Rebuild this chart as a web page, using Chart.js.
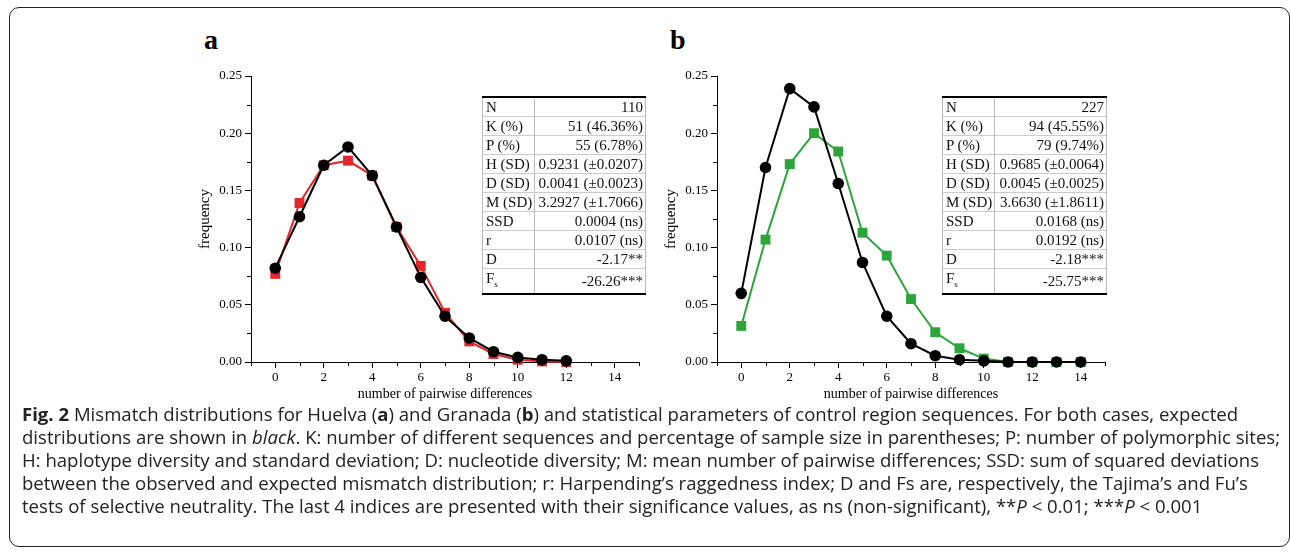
<!DOCTYPE html>
<html>
<head>
  <title>Mismatch distributions</title>
  <script src="https://cdn.jsdelivr.net/npm/chart.js"></script>
  <style>
    html, body { margin: 0; padding: 0; background: #fff; }
    body { width: 1290px; height: 553px; position: relative; overflow: hidden; }
    .frame { position: absolute; left: 9px; top: 7px; width: 1281px; height: 540px;
             border: 1.5px solid #222; border-radius: 10px; box-sizing: border-box; }
    .panel-tag { position: absolute; top: 24px; font: bold 28px "Liberation Serif", serif; color: #000; }
    canvas { position: absolute; }
    table.stats { position: absolute; border-collapse: collapse; font: 15px "Liberation Serif", serif;
                  color: #111; border-top: 2px solid #000; border-bottom: 2px solid #000; }
    table.stats td { height: 18px; padding: 0 2px 0 3px; border-left: 1px solid #bbb; border-right: 1px solid #bbb;
                     border-top: 1px solid #ccc; white-space: nowrap; line-height: 18px; }
    table.stats td.v { text-align: right; }
    .cap { position: absolute; left: 22px; font: 18.57px "Open Sans", sans-serif; color: #222; white-space: nowrap; }
  </style>
</head>
<body>
<div class="frame"></div>
<div class="panel-tag" style="left:204px">a</div>
<div class="panel-tag" style="left:670px">b</div>
<canvas id="chartA" width="470" height="346" style="left:190px;top:60px"></canvas>
<canvas id="chartB" width="470" height="346" style="left:656px;top:60px"></canvas>
<table class="stats" id="tableA" style="left:482px;top:96px;width:164px"></table>
<table class="stats" id="tableB" style="left:942px;top:96px;width:165px"></table>

<div class="cap" style="top:401px"><b>Fig. 2</b> Mismatch distributions for Huelva (<b>a</b>) and Granada (<b>b</b>) and statistical parameters of control region sequences. For both cases, expected</div>
<div class="cap" style="top:424px">distributions are shown in <i>black</i>. K: number of different sequences and percentage of sample size in parentheses; P: number of polymorphic sites;</div>
<div class="cap" style="top:447px">H: haplotype diversity and standard deviation; D: nucleotide diversity; M: mean number of pairwise differences; SSD: sum of squared deviations</div>
<div class="cap" style="top:470px">between the observed and expected mismatch distribution; r: Harpending’s raggedness index; D and Fs are, respectively, the Tajima’s and Fu’s</div>
<div class="cap" style="top:493px">tests of selective neutrality. The last 4 indices are presented with their significance values, as ns (non-significant), **<i>P</i> &lt; 0.01; ***<i>P</i> &lt; 0.001</div>

<script>
// number of pairwise differences
const diffsA = [0, 1, 2, 3, 4, 5, 6, 7, 8, 9, 10, 11, 12];
const diffsB = [0, 1, 2, 3, 4, 5, 6, 7, 8, 9, 10, 11, 12, 13, 14];

// Huelva (a)
const observedA = [0.077, 0.139, 0.172, 0.176, 0.163, 0.118, 0.084, 0.043, 0.018, 0.007, 0.002, 0.0005, 0];
const expectedA = [0.082, 0.127, 0.172, 0.188, 0.163, 0.118, 0.074, 0.040, 0.021, 0.009, 0.004, 0.002, 0.001];

// Granada (b)
const observedB = [0.0315, 0.107, 0.173, 0.200, 0.184, 0.113, 0.093, 0.055, 0.026, 0.012, 0.003, 0, 0, 0, 0];
const expectedB = [0.060, 0.170, 0.239, 0.223, 0.156, 0.087, 0.040, 0.016, 0.0055, 0.002, 0.001, 0, 0, 0, 0];

const xTicks = [0, 2, 4, 6, 8, 10, 12, 14];
const yTicks = [0, 0.05, 0.10, 0.15, 0.20, 0.25];

const statLabels = ['N', 'K (%)', 'P (%)', 'H (SD)', 'D (SD)', 'M (SD)', 'SSD', 'r', 'D', 'F<sub style="font-size:9px">s</sub>'];
const statsA = ['110', '51 (46.36%)', '55 (6.78%)', '0.9231 (±0.0207)', '0.0041 (±0.0023)',
                '3.2927 (±1.7066)', '0.0004 (ns)', '0.0107 (ns)', '-2.17**', '-26.26***'];
const statsB = ['227', '94 (45.55%)', '79 (9.74%)', '0.9685 (±0.0064)', '0.0045 (±0.0025)',
                '3.6630 (±1.8611)', '0.0168 (ns)', '0.0192 (ns)', '-2.18***', '-25.75***'];

function fillTable(id, values, firstCol) {
  const rows = statLabels.map((lab, i) =>
    '<tr><td style="width:' + firstCol + 'px">' + lab + '</td><td class="v">' + values[i] + '</td></tr>');
  document.getElementById(id).innerHTML = rows.join('');
}
fillTable('tableA', statsA, 44);
fillTable('tableB', statsB, 43);

const serif = '"Liberation Serif", "Times New Roman", serif';

// short minor ticks between the labelled ones
const minorTicks = {
  id: 'minorTicks',
  afterDraw(chart) {
    const {ctx, scales: {x, y}} = chart;
    ctx.save();
    ctx.strokeStyle = '#000';
    ctx.lineWidth = 1;
    ctx.beginPath();
    for (let v = -1; v <= 15; v += 2) {
      const px = Math.round(x.getPixelForValue(v)) + 0.5;
      ctx.moveTo(px, y.bottom);
      ctx.lineTo(px, y.bottom + 4);
    }
    for (let v = 0.025; v < 0.25; v += 0.05) {
      const py = Math.round(y.getPixelForValue(v)) + 0.5;
      ctx.moveTo(x.left, py);
      ctx.lineTo(x.left - 4, py);
    }
    ctx.stroke();
    ctx.restore();
  }
};

function makeChart(id, diffs, expected, observed, obsColor) {
  const toXY = arr => diffs.map((d, i) => ({x: d, y: arr[i]}));
  new Chart(document.getElementById(id), {
    type: 'line',
    data: {
      datasets: [{
        label: 'expected',
        data: toXY(expected),
        borderColor: '#000',
        backgroundColor: '#000',
        borderWidth: 2,
        pointStyle: 'circle',
        pointRadius: 5.8,
        pointBorderWidth: 0,
        tension: 0,
        clip: false
      }, {
        label: 'observed',
        data: toXY(observed),
        borderColor: obsColor,
        backgroundColor: obsColor,
        borderWidth: 2,
        pointStyle: 'rect',
        pointRadius: 7,
        pointBorderWidth: 0,
        tension: 0,
        clip: false
      }]
    },
    options: {
      responsive: false,
      animation: false,
      layout: { padding: { top: 16, right: 21, left: 0, bottom: 0 } },
      plugins: { legend: { display: false }, tooltip: { enabled: false } },
      scales: {
        x: {
          type: 'linear',
          min: -1,
          max: 15,
          afterBuildTicks: s => { s.ticks = xTicks.map(v => ({value: v})); },
          afterFit: s => { s.height = 44; },
          grid: { drawOnChartArea: false, tickLength: 6, color: '#000' },
          border: { color: '#000', width: 1 },
          ticks: { color: '#000', font: { family: serif, size: 13 }, padding: 2, maxRotation: 0 },
          title: { display: true, text: 'number of pairwise differences', color: '#000',
                   font: { family: serif, size: 14 }, padding: { top: 0, bottom: 3 } }
        },
        y: {
          min: 0,
          max: 0.25,
          afterBuildTicks: s => { s.ticks = yTicks.map(v => ({value: v})); },
          afterFit: s => { s.width = 61; },
          grid: { drawOnChartArea: false, tickLength: 6, color: '#000' },
          border: { color: '#000', width: 1 },
          ticks: { color: '#000', font: { family: serif, size: 13 }, padding: 3,
                   callback: v => v.toFixed(2) },
          title: { display: true, text: 'frequency', color: '#000',
                   font: { family: serif, size: 15 }, padding: { top: 6, bottom: 0 } }
        }
      }
    },
    plugins: [minorTicks]
  });
}

makeChart('chartA', diffsA, expectedA, observedA, '#e3262a');
makeChart('chartB', diffsB, expectedB, observedB, '#2ca53a');
</script>
</body>
</html>
